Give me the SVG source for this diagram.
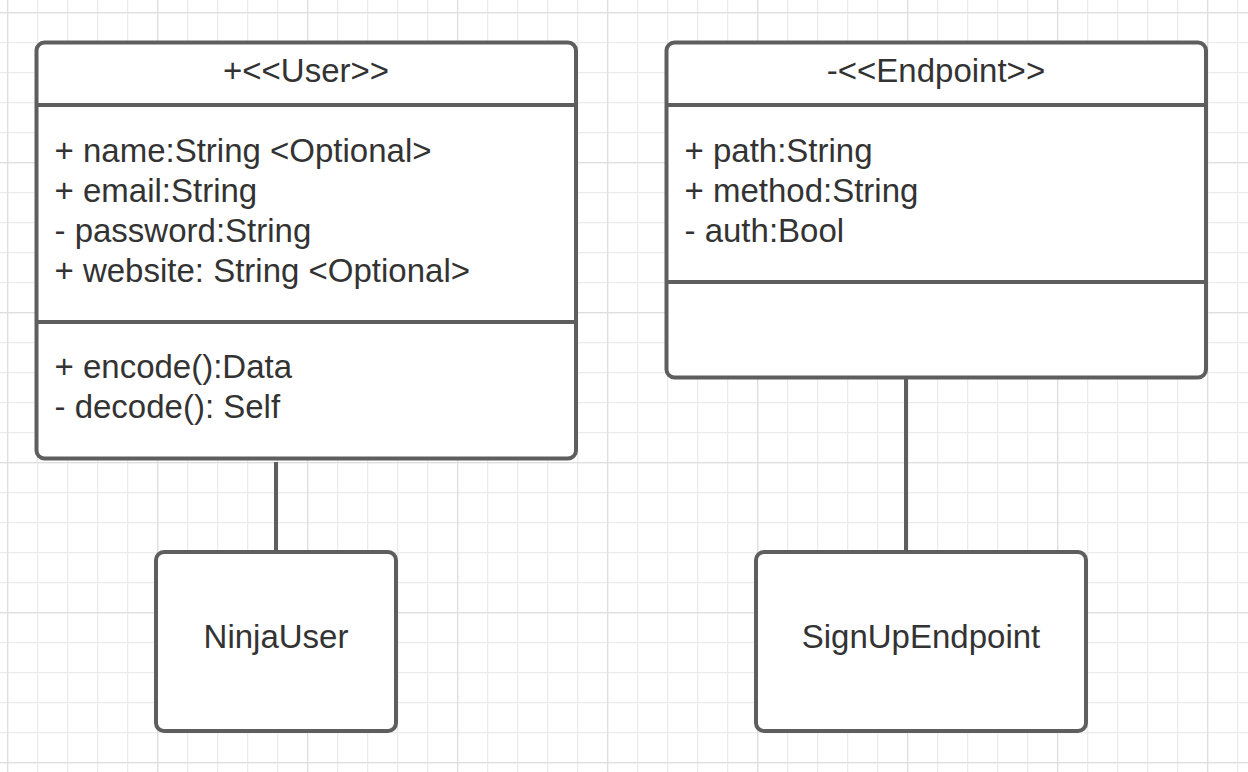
<svg xmlns="http://www.w3.org/2000/svg" width="1248" height="772" viewBox="0 0 1248 772">
<defs>
<pattern id="minor" x="7" y="12" width="30" height="30" patternUnits="userSpaceOnUse">
<path d="M0.5 0V30M0 0.5H30" fill="none" stroke="#ebebeb" stroke-width="1.5"/>
</pattern>
<pattern id="major" x="7" y="12" width="150" height="150" patternUnits="userSpaceOnUse">
<path d="M0.5 0V150M0 0.5H150" fill="none" stroke="#dedede" stroke-width="1.5"/>
</pattern>
</defs>
<style>
.box{fill:#ffffff;stroke:#5e5e5e;stroke-width:4}
.sep{stroke:#5e5e5e;stroke-width:4}
.conn{stroke:#5e5e5e;stroke-width:4;fill:none}
text{font-family:"Liberation Sans",Arial,sans-serif;font-size:33px;fill:#333333}
.c{text-anchor:middle}
</style>
<rect width="1248" height="772" fill="#ffffff"/>
<rect width="1248" height="772" fill="url(#minor)"/>
<rect width="1248" height="772" fill="url(#major)"/>
<g id="connectors">
<line class="conn" x1="276" y1="462" x2="276" y2="552"/>
<line class="conn" x1="906" y1="374" x2="906" y2="552"/>
</g>
<g id="user">
<rect class="box" x="36.5" y="42.5" width="539.5" height="416" rx="8"/>
<line class="sep" x1="36.5" y1="105" x2="576" y2="105"/>
<line class="sep" x1="36.5" y1="322" x2="576" y2="322"/>
<text class="c" x="306" y="82">+&lt;&lt;User&gt;&gt;</text>
<text x="54.5" y="162">+ name:String &lt;Optional&gt;</text>
<text x="54.5" y="202">+ email:String</text>
<text x="54.5" y="242">- password:String</text>
<text x="54.5" y="282">+ website: String &lt;Optional&gt;</text>
<text x="54.5" y="378">+ encode():Data</text>
<text x="54.5" y="418">- decode(): Self</text>
</g>
<g id="endpoint">
<rect class="box" x="666.5" y="42.5" width="539.5" height="335" rx="8"/>
<line class="sep" x1="666.5" y1="105" x2="1206" y2="105"/>
<line class="sep" x1="666.5" y1="282" x2="1206" y2="282"/>
<text class="c" x="936" y="82">-&lt;&lt;Endpoint&gt;&gt;</text>
<text x="684.5" y="162">+ path:String</text>
<text x="684.5" y="202">+ method:String</text>
<text x="684.5" y="242">- auth:Bool</text>
</g>
<g id="ninjauser">
<rect class="box" x="156" y="552" width="240" height="179" rx="8"/>
<text class="c" x="276" y="648">NinjaUser</text>
</g>
<g id="signupendpoint">
<rect class="box" x="756" y="552" width="330" height="179" rx="8"/>
<text class="c" x="921" y="648">SignUpEndpoint</text>
</g>
</svg>
